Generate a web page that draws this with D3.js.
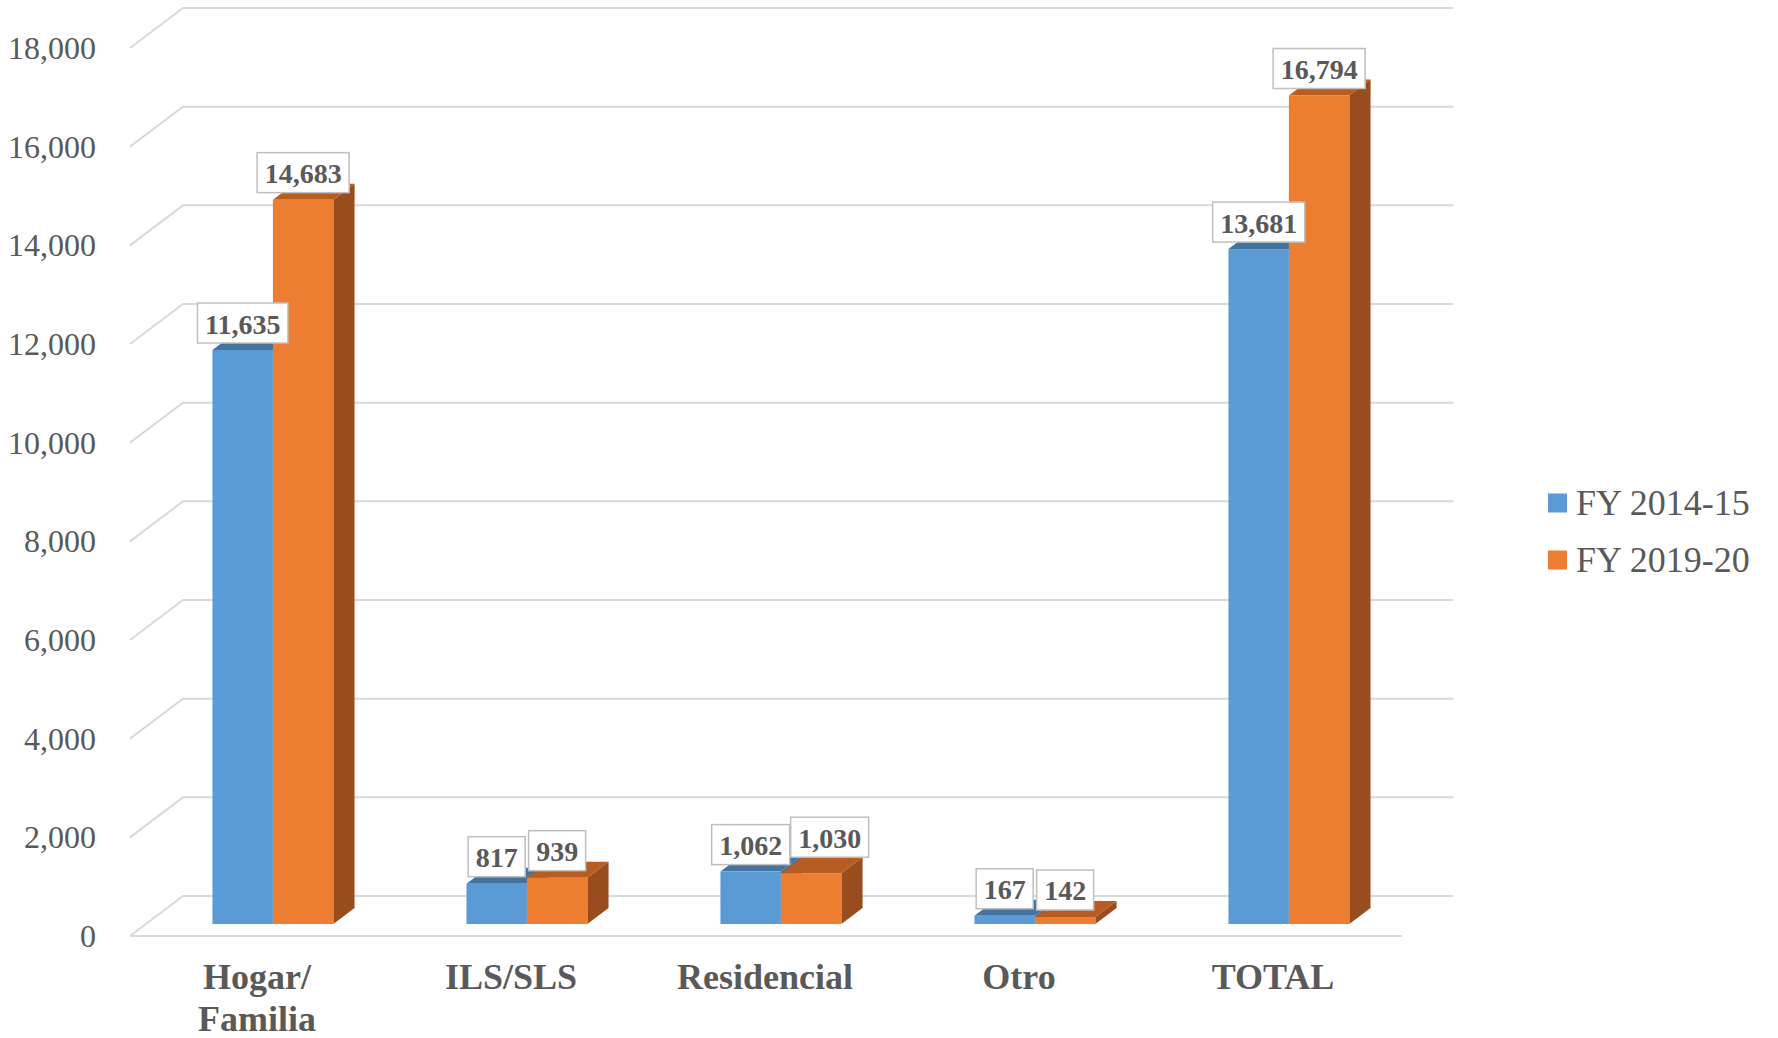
<!DOCTYPE html>
<html>
<head>
<meta charset="utf-8">
<script src="https://cdn.jsdelivr.net/npm/d3@7"></script>
<style>
  html, body { margin: 0; padding: 0; background: #fff; }
  svg { display: block; }
</style>
</head>
<body>
<svg id="chart" width="1778" height="1038"></svg>
<script>
const categories = [["Hogar/", "Familia"], ["ILS/SLS"], ["Residencial"], ["Otro"], ["TOTAL"]];
const seriesNames = ["FY 2014-15", "FY 2019-20"];
const fy2014 = [11635, 817, 1062, 167, 13681];
const fy2019 = [14683, 939, 1030, 142, 16794];
const yTicks = [0, 2000, 4000, 6000, 8000, 10000, 12000, 14000, 16000, 18000];

const seriesValues = [fy2014, fy2019];
const colors = [
  { front: "#5B9BD5", top: "#44739F", side: "#3F6E99" },
  { front: "#ED7D31", top: "#B55D23", side: "#994C1D" }
];
const SERIF = "'Liberation Serif', 'Times New Roman', Times, serif";

const svg = d3.select("#chart");

// plot geometry (front plane = depth 0)
const left = 130, right = 1400;
const y = d3.scaleLinear().domain([0, 18000]).range([936, 48]);
const depth = { dx: 53, dy: -40 };          // floor depth vector
const barFront = 0.3, barBack = 0.7;        // bar position in depth
const catKeys = categories.map(c => c.join(" "));
const x = d3.scaleBand().domain(catKeys).range([left, right]);
const halfGroup = x.bandwidth() * 0.238;

const off = f => [depth.dx * f, depth.dy * f];

// gridlines
const grid = svg.append("g");
yTicks.forEach(t => {
  const yf = y(t);
  const [bx, by] = off(1);
  grid.append("path")
    .attr("d", `M${left},${yf} L${left + bx},${yf + by} L${right + 53},${yf + by}`)
    .attr("fill", "none").attr("stroke", "#D9D9D9").attr("stroke-width", 2);
});
grid.append("line")
  .attr("x1", left).attr("x2", right + 2).attr("y1", y(0)).attr("y2", y(0))
  .attr("stroke", "#D9D9D9").attr("stroke-width", 2);

// y axis labels
svg.append("g").selectAll("text").data(yTicks).join("text")
  .attr("x", 96).attr("y", d => y(d))
  .attr("text-anchor", "end").attr("dominant-baseline", "central")
  .attr("font-family", SERIF)
  .attr("font-size", 32).attr("fill", "#595959")
  .text(d => d3.format(",")(d));

// bars
const bars = svg.append("g");
const [fx, fy] = off(barFront);
const [ddx, ddy] = off(barBack - barFront);
const labelInfo = [];
catKeys.forEach((key, ci) => {
  const cx = x(key) + x.bandwidth() / 2 + fx;
  const sub = d3.scaleBand().domain(seriesNames).range([cx - halfGroup, cx + halfGroup]);
  seriesNames.forEach((s, si) => {
    const v = seriesValues[si][ci];
    const x0 = sub(s), x1 = x0 + sub.bandwidth();
    const yTop = y(v) + fy, yBot = y(0) + fy;
    const c = colors[si];
    bars.append("path")
      .attr("d", `M${x1},${yBot} L${x1 + ddx},${yBot + ddy} L${x1 + ddx},${yTop + ddy} L${x1},${yTop} Z`)
      .attr("fill", c.side);
    bars.append("path")
      .attr("d", `M${x0},${yTop} L${x0 + ddx},${yTop + ddy} L${x1 + ddx},${yTop + ddy} L${x1},${yTop} Z`)
      .attr("fill", c.top);
    bars.append("rect")
      .attr("x", x0).attr("y", yTop).attr("width", x1 - x0).attr("height", yBot - yTop)
      .attr("fill", c.front);
    labelInfo.push({ ci, si, v, cx: (x0 + x1) / 2, yTop });
  });
});

// data labels
const lg = svg.append("g");
const boxes = {};
labelInfo.forEach(d => {
  const g = lg.append("g");
  const t = g.append("text")
    .attr("font-family", SERIF)
    .attr("font-weight", "bold").attr("font-size", 28).attr("fill", "#595959")
    .attr("text-anchor", "middle").attr("dominant-baseline", "central")
    .text(d3.format(",")(d.v));
  const tw = t.node().getComputedTextLength();
  const bw = tw + 15, bh = 40;
  let bx = d.cx - bw / 2;
  let by = d.yTop - 7 - bh;
  if (d.si === 1) {
    const o = boxes[d.ci];
    if (o && bx < o.x + o.w && by < o.y + o.h && by + bh > o.y) {
      bx = o.x + o.w + 1;
      by -= 9;
    }
  } else {
    boxes[d.ci] = { x: bx, y: by, w: bw, h: bh };
  }
  g.insert("rect", "text")
    .attr("x", bx).attr("y", by).attr("width", bw).attr("height", bh)
    .attr("fill", "#fff").attr("stroke", "#BFBFBF").attr("stroke-width", 1.5);
  t.attr("x", bx + bw / 2).attr("y", by + bh / 2 + 1);
});

// category labels
const cg = svg.append("g");
categories.forEach((lines, i) => {
  const cx = x(catKeys[i]) + x.bandwidth() / 2;
  const t = cg.append("text")
    .attr("text-anchor", "middle")
    .attr("font-family", SERIF)
    .attr("font-weight", "bold").attr("font-size", 36).attr("fill", "#595959");
  lines.forEach((ln, li) => {
    t.append("tspan").attr("x", cx).attr("y", 989 + li * 42).text(ln);
  });
});

// legend
const leg = svg.append("g");
seriesNames.forEach((s, i) => {
  const cy = 503 + i * 57;
  leg.append("rect").attr("x", 1548).attr("y", cy - 9.5).attr("width", 19).attr("height", 19)
    .attr("fill", colors[i].front);
  leg.append("text").attr("x", 1576).attr("y", cy)
    .attr("dominant-baseline", "central")
    .attr("font-family", SERIF)
    .attr("font-size", 36).attr("fill", "#595959").text(s);
});
</script>
</body>
</html>
